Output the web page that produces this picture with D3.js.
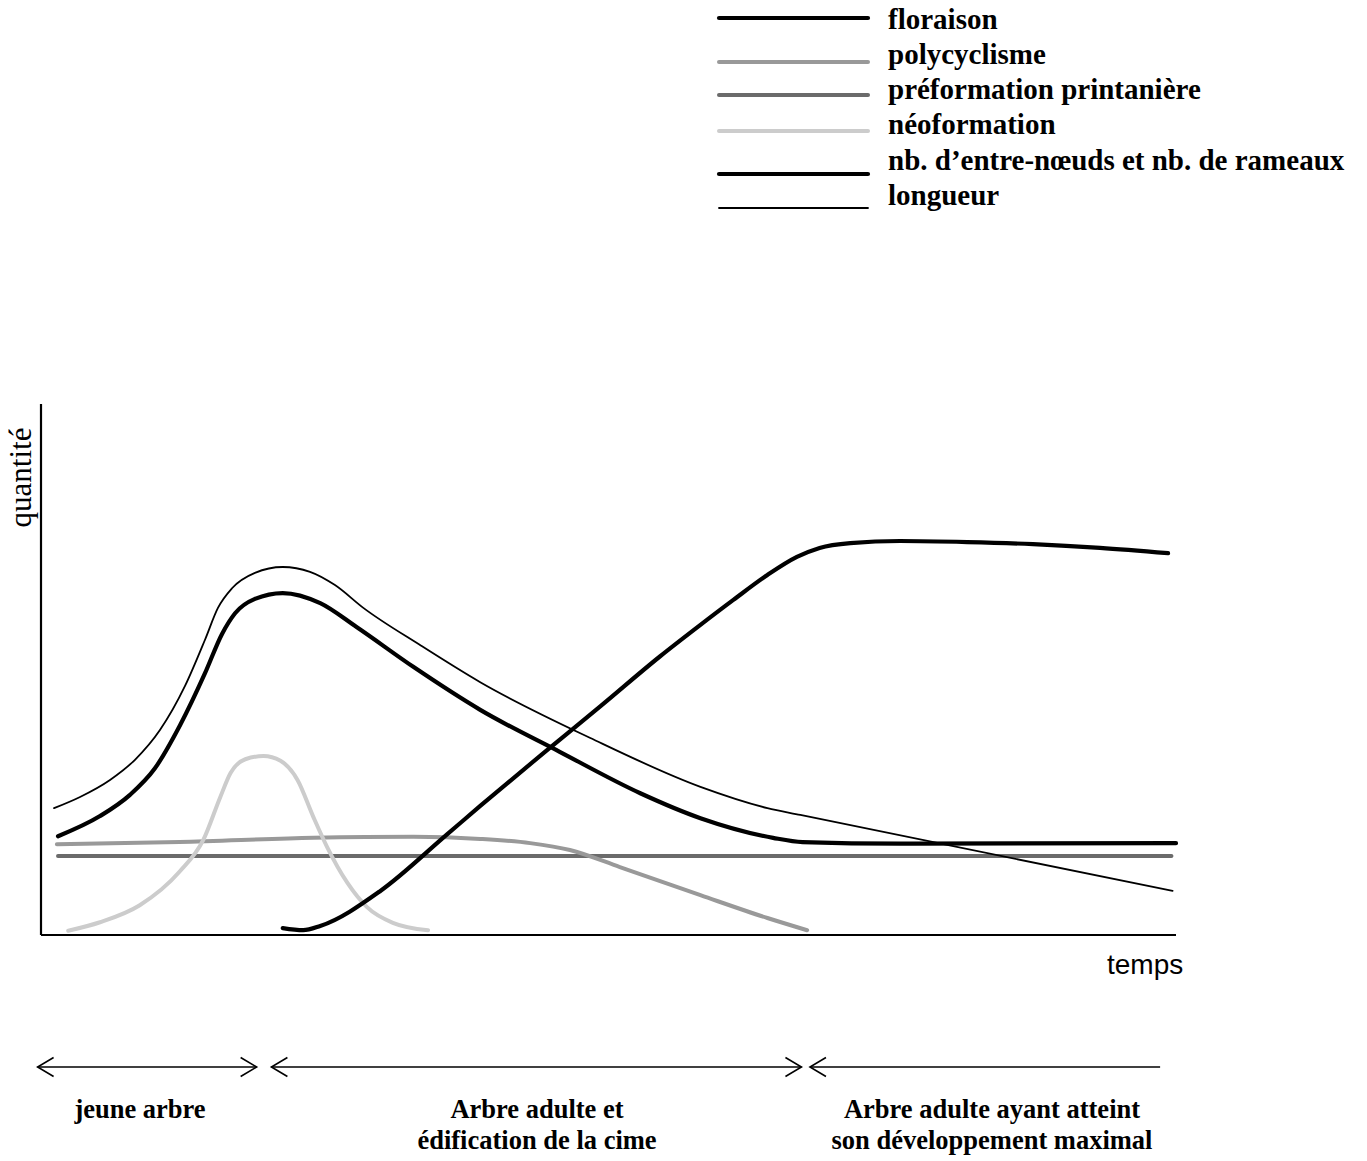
<!DOCTYPE html>
<html>
<head>
<meta charset="utf-8">
<script src="https://cdn.jsdelivr.net/npm/d3@7"></script>
<style>
  html, body { margin: 0; padding: 0; background: #fff; }
  svg { display: block; }
</style>
</head>
<body>
<svg id="chart" width="1367" height="1161"></svg>
<script>
// ---------------- DATA (time 0..100, quantité 0..100) ----------------
const seriesNames = ["floraison", "polycyclisme", "préformation printanière", "néoformation",
                     "nb. d\u2019entre-nœuds et nb. de rameaux", "longueur"];

const floraison = [
  [21.3, 1.3], [23.1, 0.9], [24.6, 1.7], [29.9, 8.3], [35.8, 19.0], [38.7, 24.3],
  [44.4, 34.5], [49.3, 43.1], [54.5, 52.4], [58.1, 58.4], [61.0, 63.1], [64.0, 67.8],
  [66.6, 71.2], [68.6, 72.9], [71.3, 73.8], [75.7, 74.2], [81.6, 74.0], [87.4, 73.6],
  [93.3, 72.9], [99.3, 71.9]
];
const polycyclisme = [
  [1.4, 17.1], [12.2, 17.5], [24.0, 18.3], [32.8, 18.5], [38.7, 18.1], [43.1, 17.3],
  [46.6, 16.0], [51.0, 12.8], [58.1, 7.5], [64.0, 3.2], [67.5, 0.9]
];
const preformation = [
  [1.5, 14.9], [99.6, 14.9]
];
const neoformation = [
  [2.4, 0.8], [5.2, 2.4], [8.7, 5.6], [12.2, 11.9], [14.3, 17.9], [15.8, 26.0],
  [16.7, 30.5], [18.0, 33.1], [19.6, 33.7], [21.1, 32.8], [22.6, 29.2], [24.0, 22.2],
  [25.2, 16.6], [27.0, 9.8], [28.7, 5.3], [31.0, 2.3], [34.1, 0.9]
];
const entreNoeuds = [
  [1.5, 18.6], [5.2, 22.4], [7.84, 26.4], [10.04, 31.4], [12.25, 39.5], [14.45, 49.3],
  [15.95, 56.7], [17.1, 60.6], [18.85, 63.3], [21.3, 64.4], [24.6, 62.5], [27.8, 58.0],
  [32.8, 50.5], [38.7, 42.4], [45.7, 34.5], [52.8, 26.7], [58.1, 22.0], [64.5, 18.3],
  [67.1, 17.5], [75.7, 17.2], [100, 17.3]
];
const longueur = [
  [1.15, 23.9], [3.44, 26.0], [6.08, 29.2], [8.28, 33.0], [10.48, 38.6], [12.69, 46.9],
  [14.45, 55.6], [15.59, 61.6], [16.83, 65.3], [18.85, 68.2], [21.3, 69.3], [23.7, 68.4],
  [25.9, 65.9], [28.4, 61.6], [33.4, 54.6], [38.7, 47.6], [48.4, 37.1], [58.1, 27.9],
  [64.0, 23.9], [66.9, 22.6], [99.7, 8.3]
];

const axisLabels = { y: "quantité", x: "temps" };
const phases = [
  { from: -0.3, to: 19.0, lines: ["jeune arbre"], heads: ["left", "right"] },
  { from: 20.3, to: 67.0, lines: ["Arbre adulte et", "édification de la cime"], heads: ["left", "right"] },
  { from: 67.75, to: 98.6, lines: ["Arbre adulte ayant atteint", "son développement maximal"], heads: ["left"] }
];

// ---------------- LAYOUT ----------------
const svg = d3.select("#chart");
const x = d3.scaleLinear().domain([0, 100]).range([41, 1176]);
const y = d3.scaleLinear().domain([0, 100]).range([935, 404]);
const smooth = d3.curveMonotoneX;

const styles = [
  { data: floraison,     color: "#000",    width: 4.2, curve: smooth },
  { data: polycyclisme,  color: "#999999", width: 4,   curve: smooth },
  { data: preformation,  color: "#6b6b6b", width: 4,   curve: d3.curveLinear },
  { data: neoformation,  color: "#cccccc", width: 4,   curve: smooth },
  { data: entreNoeuds,   color: "#000",    width: 4.2, curve: smooth },
  { data: longueur,      color: "#000",    width: 1.8, curve: smooth }
];

// axes
const axes = svg.append("g").attr("stroke", "#000").attr("stroke-width", 2.2).attr("fill", "none");
axes.append("line").attr("x1", x(0)).attr("x2", x(0)).attr("y1", y(0)).attr("y2", y(100));
axes.append("line").attr("x1", x(0)).attr("x2", x(100)).attr("y1", y(0)).attr("y2", y(0));

svg.append("text")
  .attr("transform", `translate(31,${(427 + 528) / 2}) rotate(-90)`)
  .attr("text-anchor", "middle")
  .attr("font-family", "'Liberation Serif', 'Times New Roman', serif")
  .attr("font-size", 31)
  .attr("fill", "#000")
  .text(axisLabels.y);

svg.append("text")
  .attr("x", 1107).attr("y", 974)
  .attr("font-family", "'Liberation Sans', Arial, sans-serif")
  .attr("font-size", 28)
  .attr("fill", "#000")
  .text(axisLabels.x);

// curves (grey first, black on top)
const order = [2, 1, 3, 5, 4, 0];
order.forEach(i => {
  const s = styles[i];
  svg.append("path")
    .datum(s.data)
    .attr("fill", "none")
    .attr("stroke", s.color)
    .attr("stroke-width", s.width)
    .attr("stroke-linecap", "round")
    .attr("stroke-linejoin", "round")
    .attr("d", d3.line().x(d => x(d[0])).y(d => y(d[1])).curve(s.curve));
});

// legend
const legendY = [18, 62, 95, 131, 174, 208];
const legendBase = [29, 64, 99, 134, 170, 205];
const lg = svg.append("g");
seriesNames.forEach((name, i) => {
  const s = styles[i];
  lg.append("line")
    .attr("x1", 719).attr("x2", 868)
    .attr("y1", legendY[i]).attr("y2", legendY[i])
    .attr("stroke", s.color)
    .attr("stroke-width", s.width)
    .attr("stroke-linecap", "round");
  lg.append("text")
    .attr("x", 888).attr("y", legendBase[i])
    .attr("font-family", "'Liberation Serif', 'Times New Roman', serif")
    .attr("font-weight", "bold")
    .attr("font-size", 29)
    .attr("fill", "#000")
    .text(name);
});

// phase arrows
const arrowY = 1067;
const pg = svg.append("g").attr("stroke", "#000").attr("stroke-width", 1.6).attr("fill", "none");
phases.forEach(p => {
  const x1 = x(p.from), x2 = x(p.to);
  pg.append("line").attr("x1", x1).attr("x2", x2).attr("y1", arrowY).attr("y2", arrowY);
  if (p.heads.includes("left")) {
    pg.append("path").attr("d", `M${x1 + 16},${arrowY - 9.5} L${x1},${arrowY} L${x1 + 16},${arrowY + 9.5}`);
  }
  if (p.heads.includes("right")) {
    pg.append("path").attr("d", `M${x2 - 16},${arrowY - 9.5} L${x2},${arrowY} L${x2 - 16},${arrowY + 9.5}`);
  }
});

const labelCenters = [140, 537, 992];
phases.forEach((p, i) => {
  p.lines.forEach((ln, j) => {
    svg.append("text")
      .attr("x", labelCenters[i])
      .attr("y", 1118 + j * 31)
      .attr("text-anchor", "middle")
      .attr("font-family", "'Liberation Serif', 'Times New Roman', serif")
      .attr("font-weight", "bold")
      .attr("font-size", 26.5)
      .attr("fill", "#000")
      .text(ln);
  });
});
</script>
</body>
</html>
